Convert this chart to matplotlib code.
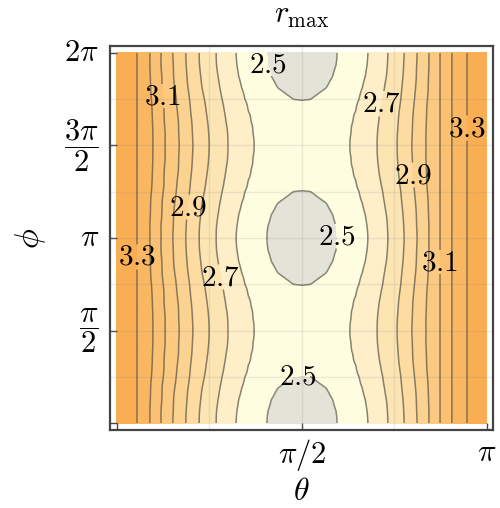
import numpy as np
import matplotlib
matplotlib.use('Agg')
import matplotlib.pyplot as plt

plt.rcParams['mathtext.fontset'] = 'cm'
plt.rcParams['font.family'] = ['DejaVu Serif']

# contour levels of r_max
levels = [2.5, 2.6, 2.7, 2.8, 2.9, 3.0, 3.1, 3.2, 3.3]

# rows: phi distance from the nearest minimum (phi = 0, pi, 2pi), in units of pi
row_offset = [0, 1/16, 2/16, 3/16, 4/16, 5/16, 6/16, 7/16, 8/16]

# theta/pi where each level (2.5 ... 3.3) is crossed, left of theta = pi/2
left_cross = [
    [.405, .322, .268, .222, .186, .151, .119, .089, .054],
    [.408, .324, .269, .223, .187, .152, .119, .089, .054],
    [.417, .329, .273, .226, .189, .153, .121, .090, .054],
    [.435, .337, .278, .230, .192, .156, .122, .091, .054],
    [.477, .346, .284, .236, .196, .160, .125, .093, .054],
    [np.nan, .355, .290, .241, .199, .163, .127, .095, .054],
    [np.nan, .363, .295, .245, .202, .166, .128, .096, .054],
    [np.nan, .368, .299, .248, .204, .167, .130, .097, .054],
    [np.nan, .370, .300, .249, .205, .168, .130, .097, .054],
]
# same, right of theta = pi/2
right_cross = [
    [.595, .678, .732, .776, .811, .843, .873, .905, .946],
    [.592, .676, .731, .775, .810, .843, .873, .905, .946],
    [.583, .671, .728, .773, .809, .842, .873, .905, .946],
    [.565, .663, .723, .770, .807, .841, .873, .905, .946],
    [.523, .654, .718, .767, .804, .839, .873, .905, .946],
    [np.nan, .645, .712, .763, .801, .837, .873, .905, .946],
    [np.nan, .637, .707, .760, .799, .836, .873, .905, .946],
    [np.nan, .632, .704, .758, .798, .835, .873, .905, .946],
    [np.nan, .630, .703, .757, .797, .835, .873, .905, .946],
]
# r_max at theta = pi/2 for each row, and at the two edges
centre_r = [2.44, 2.442, 2.448, 2.46, 2.496, 2.52, 2.54, 2.555, 2.56]
edge_r = [3.44, 3.43]

band_colors = ['#e4e3d8', '#fffde0', '#feefc8', '#fde5b3', '#fddba1',
               '#fcd291', '#fcc981', '#fbc071', '#fab762', '#faae53', '#f9a443']

# build the field row by row
theta = np.linspace(0, np.pi, 721)
profiles = []
for k in range(len(row_offset)):
    xs = [0] + left_cross[k][::-1] + [0.5] + right_cross[k] + [1]
    vs = [edge_r[0]] + levels[::-1] + [centre_r[k]] + levels + [edge_r[1]]
    xs = np.array(xs); vs = np.array(vs)
    ok = ~np.isnan(xs)
    profiles.append(np.interp(theta / np.pi, xs[ok], vs[ok]))

# one full period in phi (32 rows over 2pi), mirrored from the quarter rows
rows = []
for j in range(32):
    k = j % 16
    if k > 8:
        k = 16 - k
    rows.append(profiles[k])
rows = np.array(rows)

# smooth resampling along phi (periodic) so contours are not faceted
nf = 257
spec = np.fft.rfft(rows, axis=0)
Z = np.fft.irfft(spec, n=nf - 1, axis=0) * (nf - 1) / 32
Z = np.vstack([Z, Z[:1]])
phi = np.linspace(0, 2 * np.pi, nf)

fig = plt.figure(figsize=(5, 5.08), dpi=100)
ax = fig.add_axes([0.22, 0.1535, 0.766, 0.756])

ax.contourf(theta, phi, Z, levels=[2.0] + levels + [4.0], colors=band_colors, zorder=1)

# faint grid
for g in np.arange(1, 4) * np.pi / 4:
    ax.axvline(g, color='#909090', alpha=0.18, lw=1, zorder=2)
for g in np.arange(1, 8) * np.pi / 4:
    ax.axhline(g, color='#909090', alpha=0.18, lw=1, zorder=2)

cs = ax.contour(theta, phi, Z, levels=levels, colors='#55554a', alpha=0.7,
                linewidths=1.1, zorder=3)

label_pos = [(0.391, 5.553), (0.594, 3.668), (0.187, 2.819), (0.883, 2.479),
             (1.231, 6.079), (1.894, 3.175), (1.528, 0.900),
             (2.259, 5.417), (2.513, 4.211), (2.955, 5.009), (2.751, 2.734)]
lbls = ax.clabel(cs, manual=label_pos, fmt=lambda v: r'$%.1f$' % v,
                 fontsize=21, inline=True, inline_spacing=-6, colors='k')
for t in lbls:
    t.set_rotation(0)
    t.set_alpha(1)

ax.set_xlim(-0.0594, np.pi + 0.051)
ax.set_ylim(-0.119, 2 * np.pi + 0.119)

ax.set_xticks([0, np.pi / 2, np.pi])
ax.set_xticklabels(['', r'$\pi/2$', r'$\pi$'])
ax.set_yticks([0, np.pi / 2, np.pi, 3 * np.pi / 2, 2 * np.pi])
ax.set_yticklabels(['', r'$\dfrac{\pi}{2}$', r'$\pi$', r'$\dfrac{3\pi}{2}$', r'$2\pi$'],
                   va='center')
ax.tick_params(direction='in', length=5, width=1, color='#444444',
               labelsize=22, top=False, right=False, pad=8)
ax.tick_params(axis='x', pad=5)

for s in ax.spines.values():
    s.set_color('#444444')
    s.set_linewidth(1.6)

ax.set_xlabel(r'$\theta$', fontsize=23, labelpad=2)
ax.set_ylabel(r'$\phi$', fontsize=24, labelpad=12)
ax.set_title(r'$r_{\max}$', fontsize=22, pad=17)

fig.savefig('out.png', dpi=100)
